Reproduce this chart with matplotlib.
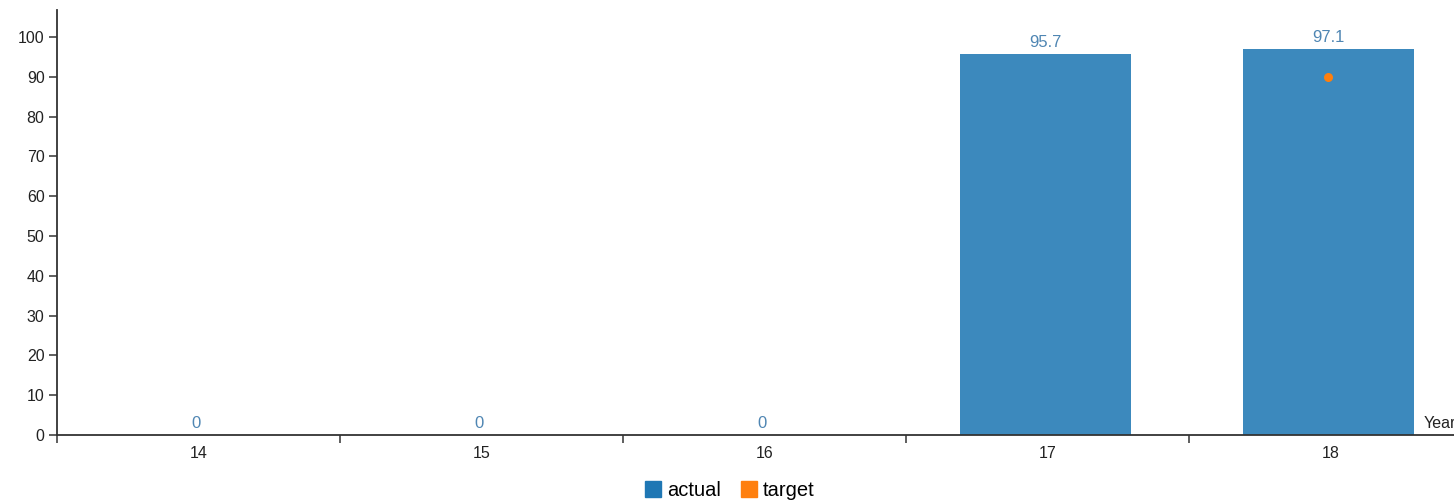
import matplotlib.pyplot as plt
from matplotlib.patches import Patch
import numpy as np

plt.rcParams["font.family"] = ["Liberation Sans", "DejaVu Sans"]

years = ["14", "15", "16", "17", "18"]
actual = [0, 0, 0, 95.7, 97.1]
target = [np.nan, np.nan, np.nan, np.nan, 90]

bar_color = "#1f77b4"
dot_color = "#ff7f0e"
label_color = "#4f86b3"
axis_color = "#333333"
text_color = "#222222"

W, H = 1454, 504
fig = plt.figure(figsize=(W / 100, H / 100), dpi=100)
ax = fig.add_axes([57 / W, 1 - 435 / H, (1472 - 57) / W, (435 - 10) / H])

x = np.arange(len(years))
shift = -0.008  # bars sit a touch left of the band centre in the original
ax.bar(x + shift, actual, width=0.605, color=bar_color, alpha=0.87, zorder=2)
ax.scatter(x + shift, target, s=30, color=dot_color, zorder=3)

for xi, v in zip(x, actual):
    ax.text(xi + shift, v + 1.0, f"{v:g}", ha="center", va="bottom",
            color=label_color, fontsize=12)

ax.set_xlim(-0.5, len(years) - 0.5)
ax.set_ylim(0, 106.8)
ax.set_yticks(np.arange(0, 101, 10))
ax.set_xticks(x)
ax.set_xticklabels(years)
ax.set_xticks(np.arange(-0.5, len(years)), minor=True)

for s in ["top", "right"]:
    ax.spines[s].set_visible(False)
for s in ["left", "bottom"]:
    ax.spines[s].set_color(axis_color)
    ax.spines[s].set_linewidth(1.3)

ax.tick_params(axis="x", which="major", length=0, pad=8, labelsize=11.5,
               colors=text_color)
ax.tick_params(axis="x", which="minor", length=6, width=1.1, color=axis_color)
ax.tick_params(axis="y", length=6, width=1.1, color=axis_color, pad=3,
               labelsize=11.5, labelcolor=text_color)

fig.text(1424 / W, 1 - 423 / H, "Year", fontsize=11.5, va="center",
         ha="left", color=text_color)

handles = [Patch(color=bar_color, label="actual"),
           Patch(color=dot_color, label="target")]
fig.legend(handles=handles, loc="lower center", bbox_to_anchor=(0.502, -0.028),
           ncol=2, frameon=False, fontsize=14.5, handlelength=0.8,
           handleheight=0.8, handletextpad=0.3, columnspacing=1.0)

fig.savefig("out.png", dpi=100)
